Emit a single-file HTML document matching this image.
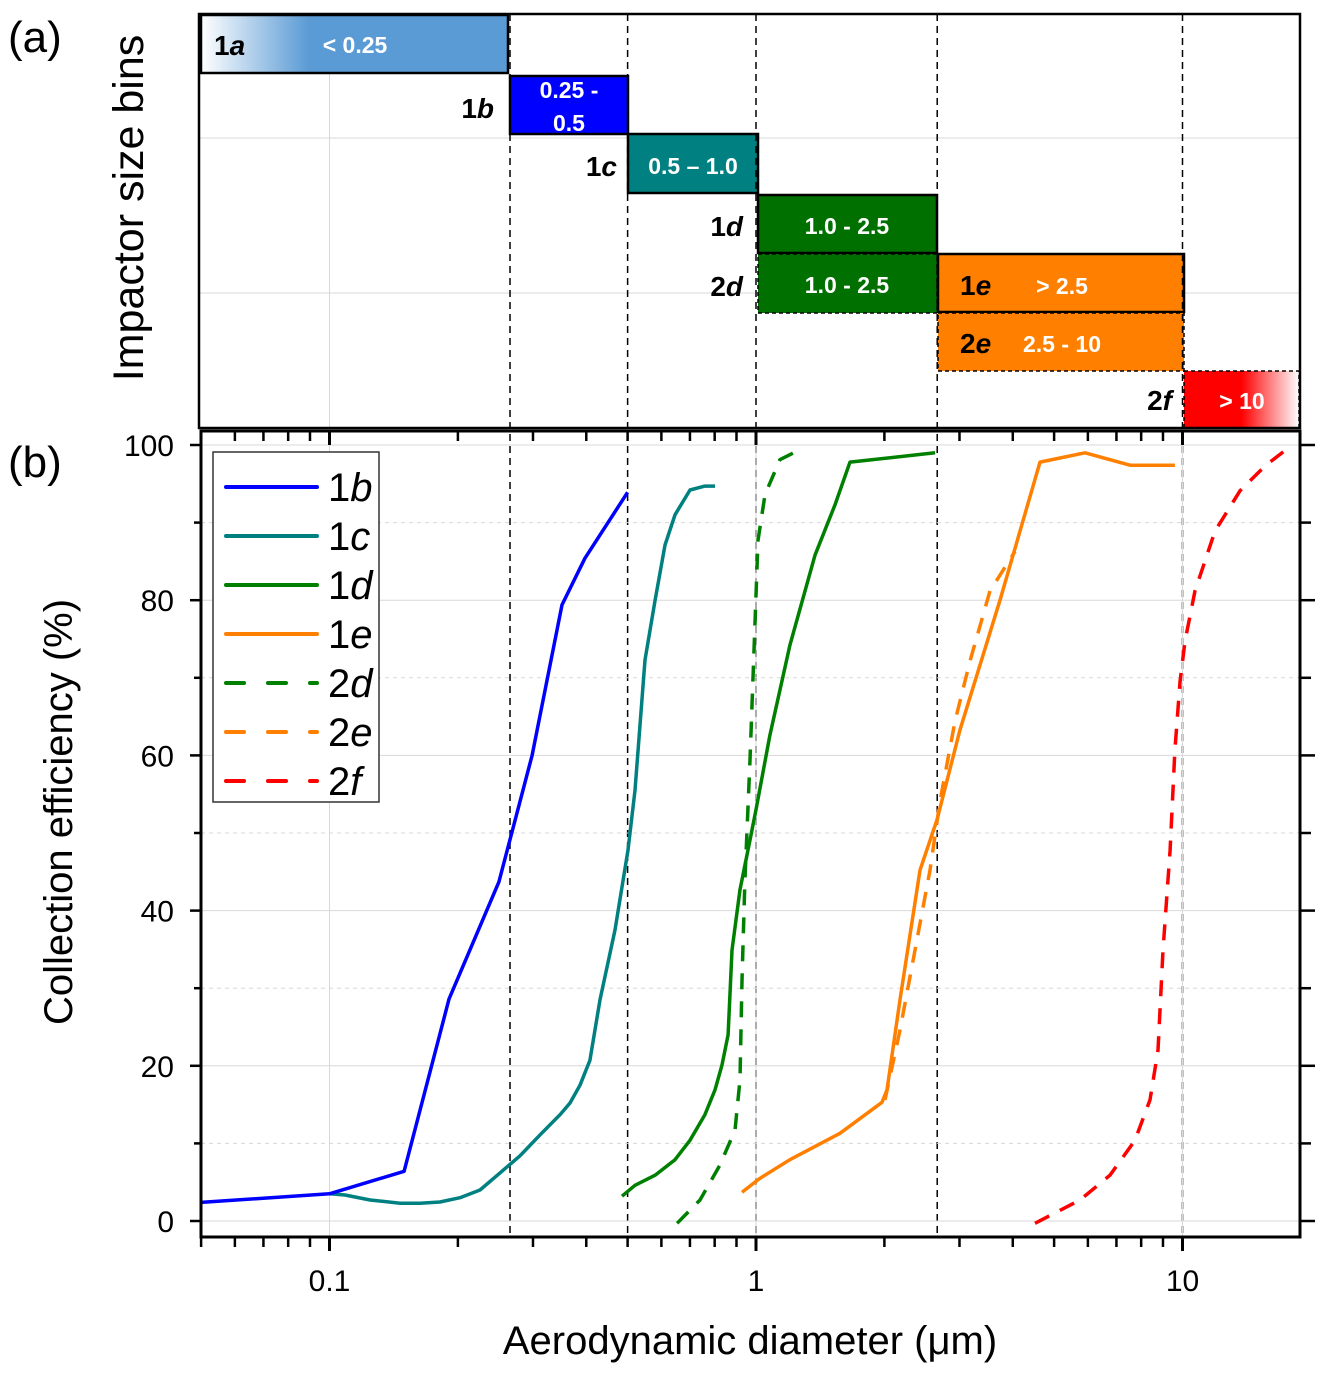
<!DOCTYPE html>
<html><head><meta charset="utf-8"><style>
body{margin:0;background:#fff}
svg{display:block;font-family:"Liberation Sans",sans-serif}
</style></head><body>
<svg id="chart" width="1328" height="1375" viewBox="0 0 1328 1375">
<defs>
<linearGradient id="gA" x1="0" x2="1"><stop offset="0" stop-color="#ffffff"/><stop offset="0.35" stop-color="#5b9bd5"/><stop offset="1" stop-color="#5b9bd5"/></linearGradient>
<linearGradient id="gF" x1="0" x2="1"><stop offset="0" stop-color="#ff0000"/><stop offset="0.5" stop-color="#ff0000"/><stop offset="1" stop-color="#ffffff"/></linearGradient>
</defs>
<g id="topPanel"></g>
<g id="botPanel"></g>
</svg>
<script>
const series1bX=[0.05,0.1,0.1496,0.1906,0.2496,0.2985,0.3508,0.397,0.5];
const series1bY=[2.4,3.5,6.4,28.6,43.7,60,79.4,85.4,93.9];
const series1cX=[0.1,0.1087,0.1245,0.1464,0.163,0.1815,0.2023,0.2253,0.251,0.2797,0.3115,0.347,0.3663,0.3867,0.408,0.4307,0.467,0.501,0.5203,0.5492,0.58,0.612,0.6457,0.7003,0.759,0.8015];
const series1cY=[3.5,3.35,2.7,2.3,2.3,2.45,3.0,4.0,6.2,8.4,11.1,13.7,15.2,17.5,20.7,28.5,37.5,47.8,55.5,72.3,80,87.1,91,94.2,94.7,94.7];
const series1dX=[0.485,0.5203,0.58,0.6457,0.7003,0.759,0.8015,0.8324,0.86,0.8783,0.917,0.968,1,1.078,1.201,1.375,1.532,1.661,2.63];
const series1dY=[3.2,4.6,5.9,7.9,10.4,13.7,16.9,20.1,24,34.9,42.7,49.1,53,62.6,74.2,85.8,92.3,97.8,99];
const series2dX=[0.653,0.739,0.823,0.893,0.917,0.927,0.942,0.968,0.989,1.011,1.05,1.138,1.268];
const series2dY=[-0.3,2.7,7.2,11.7,18.2,31,43.9,59.4,73.5,87.7,93.6,98.1,99.4];
const series1eX=[0.927,1.022,1.201,1.574,1.974,2.028,2.176,2.424,2.657,3.008,3.734,4.634,5.906,7.532,9.6];
const series1eY=[3.7,5.5,7.9,11.3,15.3,16.9,28.5,45.2,51.7,63.3,80,97.8,99,97.4,97.4];
const series2eX=[2.007,2.176,2.36,2.559,2.701,2.928,3.176,3.538,4.05];
const series2eY=[15.6,24.6,34.9,45.2,54.1,64.4,72.2,81.2,86.3];
const series2fX=[4.51,5.75,6.76,7.74,8.39,8.76,9.0,9.35,9.6,9.87,10.14,10.7,11.92,13.64,15.61,17.68];
const series2fY=[-0.3,2.7,5.9,10.4,15.6,22,34.9,47.8,60.7,69.6,74.8,81.2,88.9,94.1,97.3,99.6];
const yTicks=[0,20,40,60,80,100];
const xTickLabels=[0.1,1,10];
const binEdges=[0.265,0.5,1,2.66,10];

const NS='http://www.w3.org/2000/svg';
const L=201,R=1300,T=431,B=1237;
function X(v){return 756+Math.log10(v)*426.5;}
function Y(v){return 1221-v*7.76;}
function mk(p,tag,a,txt){const e=document.createElementNS(NS,tag);for(const k in a)e.setAttribute(k,a[k]);if(txt!==undefined)e.textContent=txt;p.appendChild(e);return e;}
const gTop=document.getElementById('topPanel'),gBot=document.getElementById('botPanel');

// panel a
mk(gTop,'line',{x1:X(0.1),y1:14,x2:X(0.1),y2:428,stroke:'#d8d8d8','stroke-width':1});
[138,293].forEach(y=>mk(gTop,'line',{x1:199,y1:y,x2:1300,y2:y,stroke:'#d8d8d8','stroke-width':1}));
function box(x1,x2,y1,y2,fill,dashed,name){
  const r=mk(gTop,'rect',{x:x1,y:y1,width:x2-x1,height:y2-y1,fill:fill,stroke:'#000','stroke-width':dashed?1.5:2.5});
  if(dashed)r.setAttribute('stroke-dasharray','4 3');
  
  
}
box(201,508,15,73,'url(#gA)',false,'bin-1a');
box(510,628,76,134,'#0000ff',false,'bin-1b');
box(628,758,134,193,'#008080',false,'bin-1c');
box(758,937,195,253,'#007000',false,'bin-1d');
box(758,937,254,313,'#007000',true,'bin-2d');
box(938,1184,254,312,'#ff7f00',false,'bin-1e');
box(938,1184,313,371,'#ff7f00',true,'bin-2e');
box(1184,1299,371,428,'url(#gF)',true,'bin-2f');
mk(gTop,'rect',{x:199,y:14,width:1101,height:414,fill:'none',stroke:'#000','stroke-width':2.5,});
function lab(x,y,num,let,anchor){const t=mk(gTop,'text',{x:x,y:y,'font-size':28,'font-weight':'bold','text-anchor':anchor||'start'});mk(t,'tspan',{},num);mk(t,'tspan',{'font-style':'italic'},let);}
function wt(x,y,s){const t=mk(gTop,'text',{x:x,y:y,'font-size':23,'font-weight':'bold',fill:'#fff','text-anchor':'middle'},s);}
lab(214,55,'1','a');wt(355,53,'< 0.25');
lab(494,118,'1','b','end');wt(569,98,'0.25 -');wt(569,131,'0.5');
lab(617,176,'1','c','end');wt(693,174,'0.5 – 1.0');
lab(743,236,'1','d','end');wt(847,234,'1.0 - 2.5');
lab(743,296,'2','d','end');wt(847,293,'1.0 - 2.5');
lab(960,295,'1','e');wt(1062,294,'> 2.5');
lab(960,353,'2','e');wt(1062,352,'2.5 - 10');
lab(1172,410,'2','f','end');wt(1242,409,'> 10');
mk(gTop,'text',{x:8,y:52,'font-size':44,},'(a)');
mk(gTop,'text',{x:0,y:0,'font-size':43,'text-anchor':'middle',transform:'translate(143,208) rotate(-90)',},'Impactor size bins');

// panel b gridlines
for(let v=0;v<=100;v+=10){const g=mk(gBot,'line',{x1:L,x2:R,y1:Y(v),y2:Y(v),stroke:'#d8d8d8','stroke-width':1});if(v%20)g.setAttribute('stroke-dasharray','4 4');}
mk(gBot,'line',{x1:X(0.1),x2:X(0.1),y1:T,y2:B,stroke:'#d8d8d8'});mk(gBot,'line',{x1:X(1),x2:X(1),y1:T,y2:B,stroke:'#d8d8d8'});mk(gBot,'line',{x1:X(10),x2:X(10),y1:T,y2:B,stroke:'#d8d8d8'});
binEdges.forEach(b=>{const l=mk(gTop,'line',{x1:X(b),x2:X(b),y1:14,y2:B,stroke:'#000','stroke-width':1.5,'stroke-dasharray':'7 5'});});

function line(xs,ys,color,dash,name){
  const d=xs.map((x,i)=>(i?'L':'M')+X(x).toFixed(1)+' '+Y(ys[i]).toFixed(1)).join(' ');
  const p=mk(gBot,'path',{d:d,fill:'none',stroke:color,'stroke-width':3.5,'stroke-linejoin':'round'});
  if(dash)p.setAttribute('stroke-dasharray','16 12');
  
  
}
line(series1cX,series1cY,'#008080',false,'series-1c');
line(series1bX,series1bY,'#0000ff',false,'series-1b');
line(series1dX,series1dY,'#008000',false,'series-1d');
line(series2dX,series2dY,'#008000',true,'series-2d');
line(series1eX,series1eY,'#ff8000',false,'series-1e');
line(series2eX,series2eY,'#ff8000',true,'series-2e');
line(series2fX,series2fY,'#ff0000',true,'series-2f');

// axes
mk(gBot,'rect',{x:L,y:T,width:R-L,height:B-T,fill:'none',stroke:'#000','stroke-width':3,});
for(let v=0;v<=100;v+=10){const len=v%20?7:11;mk(gBot,'line',{x1:L-len,x2:L,y1:Y(v),y2:Y(v),stroke:'#000','stroke-width':2.5});mk(gBot,'line',{x1:R,x2:R+len+4,y1:Y(v),y2:Y(v),stroke:'#000','stroke-width':2.5});}
yTicks.forEach(v=>{const t=mk(gBot,'text',{x:174,y:Y(v)+11,'font-size':30,'text-anchor':'end'},String(v));});
for(let e=-2;e<=1;e++)for(let m=1;m<10;m++){const v=m*Math.pow(10,e);if(v<0.05||v>18.9)continue;const major=m===1;const px=X(v);mk(gBot,'line',{x1:px,x2:px,y1:B,y2:B+(major?14:10),stroke:'#000','stroke-width':major?3:2.5});mk(gBot,'line',{x1:px,x2:px,y1:T,y2:T+(major?14:10),stroke:'#000','stroke-width':major?3:2.5});}
xTickLabels.forEach(v=>{const t=mk(gBot,'text',{x:X(v),y:1291,'font-size':30,'text-anchor':'middle'},String(v));});
mk(gBot,'text',{x:750,y:1354,'font-size':40,'text-anchor':'middle',},'Aerodynamic diameter (μm)');
mk(gBot,'text',{x:0,y:0,'font-size':40,'text-anchor':'middle',transform:'translate(72,812) rotate(-90)',},'Collection efficiency (%)');
mk(gBot,'text',{x:8,y:477,'font-size':44,},'(b)');

// legend
const legNames=['1b','1c','1d','1e','2d','2e','2f'];
const legColors=['#0000ff','#008080','#008000','#ff8000','#008000','#ff8000','#ff0000'];
const lg=mk(gBot,'g',{});
mk(lg,'rect',{x:213,y:452,width:166,height:350,fill:'#fff',stroke:'#333','stroke-width':1.5});
legNames.forEach((n,i)=>{
  const y=487+i*49;
  const g=mk(lg,'g',{});
  
  
  const l=mk(g,'line',{x1:226,x2:317,y1:y,y2:y,stroke:legColors[i],'stroke-width':4,'stroke-linecap':'round'});
  if(n[0]==='2')l.setAttribute('stroke-dasharray','18 24');
  const t=mk(g,'text',{x:328,y:y+14,'font-size':40});
  mk(t,'tspan',{},n[0]);mk(t,'tspan',{'font-style':'italic'},n[1]);
});
</script>
</body></html>
